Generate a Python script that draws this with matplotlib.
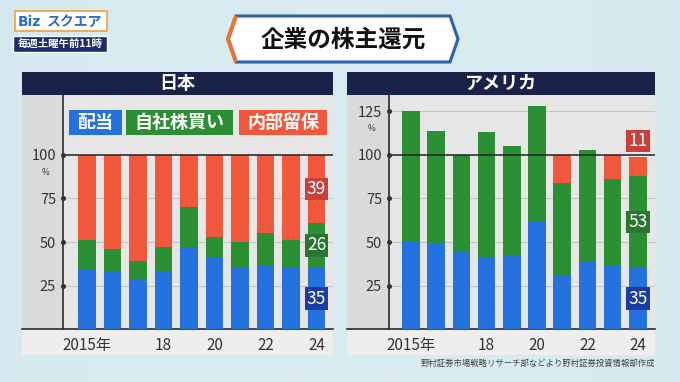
import matplotlib
matplotlib.use("Agg")
import matplotlib.pyplot as plt
from matplotlib.patches import Rectangle, Polygon
import numpy as np

plt.rcParams['font.family'] = ['Noto Sans CJK JP', 'DejaVu Sans']

# data (% of net income)
years = [2015, 2016, 2017, 2018, 2019, 2020, 2021, 2022, 2023, 2024]
tick_pos = [0, 3, 5, 7, 9]
tick_labels = ["2015年", "18", "20", "22", "24"]

jp_dividend = [34, 33, 29, 33, 47, 41, 35, 36, 35, 35]
jp_buyback = [17, 13, 10, 14, 23, 12, 15, 19, 16, 26]
jp_retained = [100 - d - b for d, b in zip(jp_dividend, jp_buyback)]

us_dividend = [50, 49, 45, 41, 42, 62, 31, 39, 37, 35]
us_buyback = [75, 65, 55, 72, 63, 66, 53, 64, 49, 53]
us_retained = [0, 0, 0, 0, 0, 0, 16, 0, 14, 11]

legend_names = ["配当", "自社株買い", "内部留保"]

BLUE = "#2372e0"
GREEN = "#2b8f34"
RED = "#f2583b"
BLUE_LAB = "#1c3c9f"
GREEN_LAB = "#2a7530"
RED_LAB = "#c9403a"
NAVY = "#1b2248"
TXT = "#333333"

W, H = 680, 382
fig = plt.figure(figsize=(6.8, 3.82), dpi=100)
fig.patch.set_facecolor("#e4f2f3")

# background layer in pixel coordinates
bg = fig.add_axes([0, 0, 1, 1])
bg.set_xlim(0, W)
bg.set_ylim(H, 0)
bg.axis("off")

# faint gradient behind everything
grad = np.linspace(0, 1, 256).reshape(1, -1)
bg.imshow(np.abs(grad - 0.5), extent=[0, W, H, 0], cmap="Blues", vmin=-3, vmax=6,
          aspect="auto", alpha=0.2, zorder=0)

# logo
bg.add_patch(Rectangle((15, 11), 92, 20, facecolor="white", edgecolor="#f0a040", lw=1.2, zorder=2))
bg.text(18, 21.5, "Biz", color="#2a6ad0", fontsize=10, fontweight="bold", va="center", ha="left",
        family=["DejaVu Sans"], zorder=3)
bg.text(47, 21.5, "スクエア", color="#2a6ad0", fontsize=10, fontweight="bold", va="center", ha="left",
        zorder=3)
bg.add_patch(Rectangle((13, 36), 94, 16, facecolor="#1d2e6a", edgecolor="white", lw=1, zorder=2))
bg.text(60, 44, "毎週土曜午前11時", color="white", fontsize=7.5, fontweight="bold",
        va="center", ha="center", zorder=3)

# title plate
plate = Polygon([(236, 16), (450, 16), (458, 39), (450, 62), (236, 62), (228, 39)],
                closed=True, facecolor="white", edgecolor="#2f5fb0", lw=2.2, zorder=2)
bg.add_patch(plate)
bg.plot([236, 228, 236], [16, 39, 62], color="#e8743a", lw=3, zorder=3, solid_capstyle="butt")
bg.text(343, 39.5, "企業の株主還元", fontsize=17, color="#111111", ha="center", va="center",
        fontweight="bold", zorder=4)

BASE_Y = 329
TOP_Y = 95
PX_PER_UNIT = 1.74


def panel(x0, x1, axis_x, title):
    bg.add_patch(Rectangle((x0, 72), x1 - x0, TOP_Y - 72, facecolor=NAVY, zorder=2))
    bg.text((x0 + x1) / 2, 83.5, title, color="white", fontsize=13, fontweight="bold",
            ha="center", va="center", zorder=3)
    bg.add_patch(Rectangle((x0, TOP_Y), x1 - x0, 355 - TOP_Y, facecolor="#eeeeee", zorder=1))
    bg.add_patch(Rectangle((x0, TOP_Y), axis_x - x0, BASE_Y - TOP_Y, facecolor="#d9dadb", zorder=1))
    bg.add_patch(Rectangle((axis_x, TOP_Y), x1 - axis_x, BASE_Y - TOP_Y, facecolor="#e6e6e6", zorder=1))
    bg.plot([x0, x1], [BASE_Y, BASE_Y], color="#2a2a2a", lw=1.2, zorder=5)


panel(22, 333, 63, "日本")
panel(347, 655, 389, "アメリカ")


def make_axes(axis_x, right_x, first_c, step, yticks, pct_y):
    ax = fig.add_axes([axis_x / W, 1 - BASE_Y / H, (right_x - axis_x) / W, (BASE_Y - TOP_Y) / H])
    ax.set_facecolor("none")
    ax.set_ylim(0, (BASE_Y - TOP_Y) / PX_PER_UNIT)
    ax.set_xlim(-(first_c - axis_x) / step, 9 + (right_x - (first_c + 9 * step)) / step)
    for s in ["top", "right", "bottom"]:
        ax.spines[s].set_visible(False)
    ax.spines["left"].set_color("#2a2a2a")
    ax.spines["left"].set_linewidth(1.2)
    for v in yticks:
        if v == 100:
            ax.axhline(v, color="#222222", lw=1.1, zorder=4)
        else:
            ax.axhline(v, color="#c4c4c4", lw=0.8, zorder=0)
    ax.set_yticks(yticks)
    ax.set_yticklabels([str(v) for v in yticks])
    ax.tick_params(axis="y", length=0, pad=5, labelsize=10.5, labelcolor=TXT)
    ax.plot([ax.get_xlim()[0]] * len(yticks), yticks, "o", ms=2.6, color=TXT, clip_on=False, zorder=6)
    ax.text(-0.05, pct_y, "%", transform=ax.get_yaxis_transform(), fontsize=6, color=TXT,
            ha="right", va="center")
    ax.set_xticks(tick_pos)
    ax.set_xticklabels(tick_labels)
    ax.tick_params(axis="x", length=0, pad=6, labelsize=11, labelcolor=TXT)
    return ax


def draw_bars(ax, div, buy, ret, labels_above):
    x = np.arange(len(years))
    div = np.array(div)
    buy = np.array(buy)
    ret = np.array(ret)
    ax.bar(x, div, width=0.7, color=BLUE, zorder=2)
    ax.bar(x, buy, width=0.7, bottom=div, color=GREEN, zorder=2)
    ax.bar(x, ret, width=0.7, bottom=div + buy, color=RED, zorder=2)
    i = len(years) - 1
    segs = [(div[i], 0, BLUE_LAB), (buy[i], div[i], GREEN_LAB), (ret[i], div[i] + buy[i], RED_LAB)]
    for k, (val, bot, col) in enumerate(segs):
        y = bot + val / 2
        if k == 2 and labels_above:
            y = bot + val + 9
        ax.text(i, y, str(val), ha="center", va="center", color="white", fontsize=12.5, zorder=7,
                bbox=dict(boxstyle="square,pad=0.12", facecolor=col, edgecolor="none"))


ax_jp = make_axes(63, 333, 87, 25.5, [25, 50, 75, 100], 90)
draw_bars(ax_jp, jp_dividend, jp_buyback, jp_retained, False)

ax_us = make_axes(389, 655, 411, 25.2, [25, 50, 75, 100, 125], 115)
draw_bars(ax_us, us_dividend, us_buyback, us_retained, True)

# legend boxes inside the Japan panel
leg_boxes = [(69, 53, BLUE), (126, 107, GREEN), (239, 88, RED)]
for name, (lx, lw_, col) in zip(legend_names, leg_boxes):
    bg.add_patch(Rectangle((lx, 110), lw_, 25, facecolor=col, edgecolor="none", zorder=6))
    bg.text(lx + lw_ / 2, 122.5, name, color="white", fontsize=13, fontweight="bold",
            ha="center", va="center", zorder=7)

bg.text(655, 363, "野村証券市場戦略リサーチ部などより野村証券投資情報部作成", fontsize=6,
        color="#444444", ha="right", va="center", zorder=3)

fig.savefig("out.png", dpi=100, facecolor=fig.get_facecolor())
